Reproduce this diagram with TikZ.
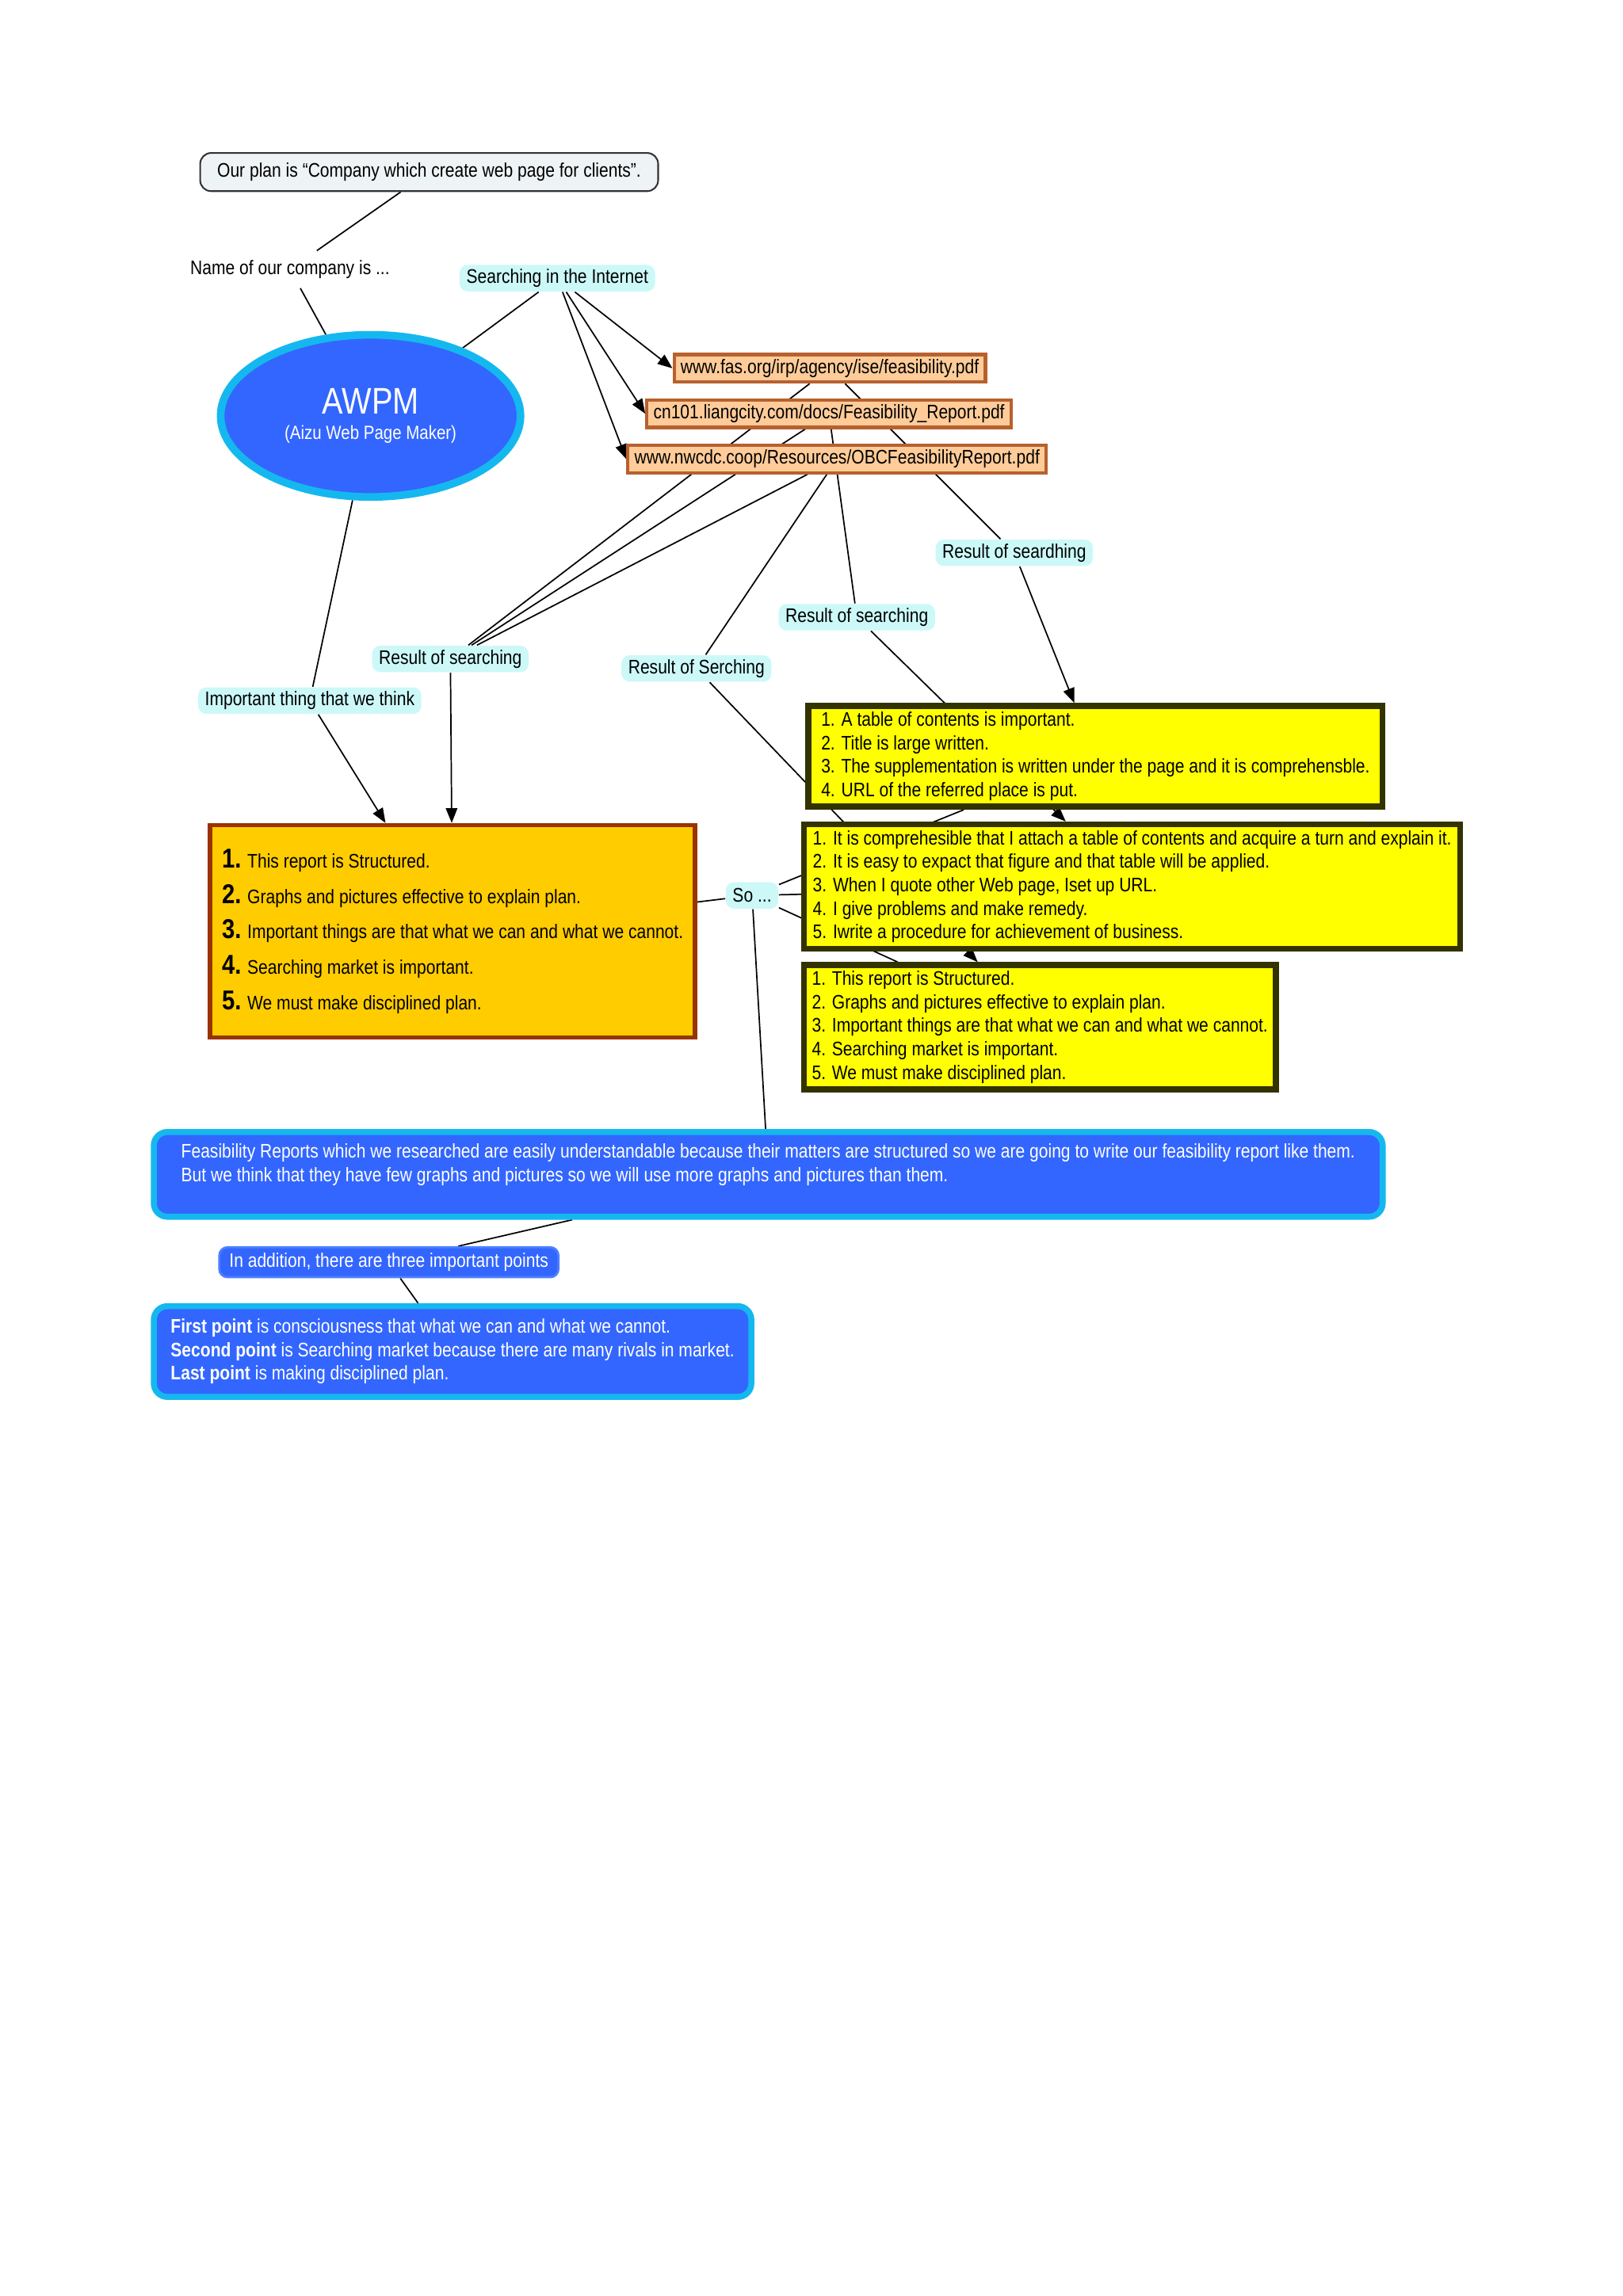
\documentclass[tikz,border=0pt]{standalone}
\usepackage{fontspec}
\setmainfont{Liberation Sans}[FakeStretch=0.85]
\usepackage{tikz}
\usetikzlibrary{arrows.meta, shapes.geometric}
\pgfdeclarelayer{background}
\pgfdeclarelayer{edges}
\pgfsetlayers{background,edges,main}
\definecolor{my_darkgray}{HTML}{333333}
\definecolor{my_paleblue}{HTML}{EEF3F5}
\definecolor{my_cyan}{HTML}{CCF8F8}
\definecolor{my_blue}{HTML}{3366FF}
\definecolor{my_midblue}{HTML}{4D80FF}
\definecolor{my_skyblue}{HTML}{15B8EE}
\definecolor{my_peach}{HTML}{FFCC99}
\definecolor{my_rust}{HTML}{B8602E}
\definecolor{my_gold}{HTML}{FFCC00}
\definecolor{my_brown}{HTML}{993300}
\definecolor{my_yellow}{HTML}{FFFF00}
\definecolor{my_olive}{HTML}{333300}
\newcommand{\bignum}[1]{{\fontsize{10}{13}\selectfont\bfseries #1}}

\begin{document}
\begin{tikzpicture}[
    x=0.5373pt, y=-0.5373pt,
    font=\fontsize{7.2}{8.6}\selectfont,
    link/.style={black, line width=0.5pt},
    arrow/.style={link, -{Triangle[length=5.4pt, width=4.2pt]}},
    phrase/.style={fill=my_cyan, rounded corners=3pt, inner xsep=2.5pt, inner ysep=0pt, minimum height=9.7pt},
    urlbox/.style={draw=my_rust, fill=my_peach, line width=1.2pt, inner xsep=2.4pt, inner ysep=0pt, minimum height=10.1pt},
    notebox/.style={draw=my_olive, fill=my_yellow, line width=2.2pt, align=left, inner sep=0pt, minimum height=45.6pt},
    bluebox/.style={draw=my_skyblue, fill=my_blue, line width=2.2pt, rounded corners=5pt, text=white, align=left, inner sep=0pt}
]

% ---------------------------------------------------------------
%  Concept map: company plan, searched reports and what we learned
% ---------------------------------------------------------------

\useasboundingbox (0, 0) rectangle (1108, 1568);
\begin{pgfonlayer}{background}
\fill[white] (0, 0) rectangle (1108, 1568);
\end{pgfonlayer}

% Plan and company name
\node[draw=my_darkgray, fill=my_paleblue, line width=0.6pt, rounded corners=4pt,
    minimum width=168pt, minimum height=14pt, inner sep=0pt] (plan) at (293, 117.5)
    {Our plan is “Company which create web page for clients”.};
\node (name) at (198, 184) {Name of our company is ...};
\node[ellipse, draw=my_skyblue, fill=my_blue, line width=2.8pt, minimum width=110pt,
    minimum height=59.5pt, inner sep=0pt, text=white, align=center] (awpm) at (253, 284)
    {{\fontsize{13.6}{14}\selectfont AWPM}\\[0.8pt]{\fontsize{7}{8.4}\selectfont (Aizu Web Page Maker)}};

% Searching and the three reports
\node[phrase] (search) at (380.5, 190) {Searching in the Internet};
\node[urlbox] (fas) at (566.5, 251.5) {www.fas.org/irp/agency/ise/feasibility.pdf};
\node[urlbox] (liang) at (566, 282.5) {cn101.liangcity.com/docs/Feasibility\_Report.pdf};
\node[urlbox] (nwcdc) at (571.5, 313.5) {www.nwcdc.coop/Resources/OBCFeasibilityReport.pdf};

% Linking phrases
\node[phrase] (seardhing) at (692.5, 377.5) {Result of seardhing};
\node[phrase] (resmid) at (585, 421.5) {Result of searching};
\node[phrase] (resleft) at (307.5, 450) {Result of searching};
\node[phrase] (serching) at (475.5, 456.5) {Result of Serching};
\node[phrase] (important) at (211.5, 478.5) {Important thing that we think};
\node[phrase] (so) at (513.5, 611.5) {So ...};

% What we think
\node[draw=my_brown, fill=my_gold, line width=1.6pt, minimum width=177.9pt, minimum height=77.9pt,
    inner sep=0pt, align=left, font=\fontsize{7.2}{13}\selectfont] (think) at (309, 636)
    {\bignum{1.} This report is Structured.\\
     \bignum{2.} Graphs and pictures effective to explain plan.\\
     \bignum{3.} Important things are that what we can and what we cannot.\\
     \bignum{4.} Searching market is important.\\
     \bignum{5.} We must make disciplined plan.};

% Results of the reports
\node[notebox, minimum width=210.6pt, minimum height=37pt] (tipsA) at (748, 516.5)
    {1. A table of contents is important.\\
     2. Title is large written.\\
     3. The supplementation is written under the page and it is comprehensble.\\
     4. URL of the referred place is put.};
\node[notebox, minimum width=240.7pt] (tipsB) at (773, 605.5)
    {1. It is comprehesible that I attach a table of contents and acquire a turn and explain it.\\
     2. It is easy to expact that figure and that table will be applied.\\
     3. When I quote other Web page, Iset up URL.\\
     4. I give problems and make remedy.\\
     5. Iwrite a procedure for achievement of business.};
\node[notebox, minimum width=173pt] (tipsC) at (710, 701.5)
    {1. This report is Structured.\\
     2. Graphs and pictures effective to explain plan.\\
     3. Important things are that what we can and what we cannot.\\
     4. Searching market is important.\\
     5. We must make disciplined plan.};

% Conclusion
\node[bluebox, minimum width=450.8pt, minimum height=31.1pt] (summary) at (524.5, 802)
    {Feasibility Reports which we researched are easily understandable because their matters are structured so we are going to write our feasibility report like them.\\
     But we think that they have few graphs and pictures so we will use more graphs and pictures than them.\\ ~};
\node[fill=my_blue, draw=my_midblue, line width=0.8pt, rounded corners=3pt, text=white,
    minimum width=124.4pt, minimum height=11pt, inner sep=0pt] (addition) at (265.5, 862)
    {In addition, there are three important points};
\node[bluebox, minimum width=219.2pt, minimum height=33.3pt] (points) at (309, 923)
    {\textbf{First point} is consciousness that what we can and what we cannot.\\
     \textbf{Second point} is Searching market because there are many rivals in market.\\
     \textbf{Last point} is making disciplined plan.};

% Connectors
\begin{pgfonlayer}{edges}
\draw[link] (plan) -- (name);
\draw[link] (name) -- (awpm);
\draw[link] (awpm) -- (search);
\draw[link] (awpm) -- (important);
\foreach \site in {fas, liang, nwcdc}
    \draw[arrow] (search) -- (\site.west);
\foreach \site in {fas, liang, nwcdc}
    \draw[link] (\site) -- (resleft);
\draw[link] (fas) -- (seardhing);
\draw[link] (liang) -- (resmid);
\draw[link] (nwcdc) -- (serching);
\draw[arrow] (resleft) -- (think);
\draw[arrow] (important) -- (think);
\draw[arrow] (seardhing) -- (tipsA);
\draw[arrow] (resmid) -- (tipsB);
\draw[arrow] (serching) -- (tipsC);
\draw[link] (think) -- (so);
\foreach \tips in {tipsA, tipsB, tipsC}
    \draw[link] (so) -- (\tips);
\draw[link] (so) -- (summary);
\draw[link] (summary) -- (addition);
\draw[link] (addition) -- (points);
\end{pgfonlayer}

\end{tikzpicture}
\end{document}
